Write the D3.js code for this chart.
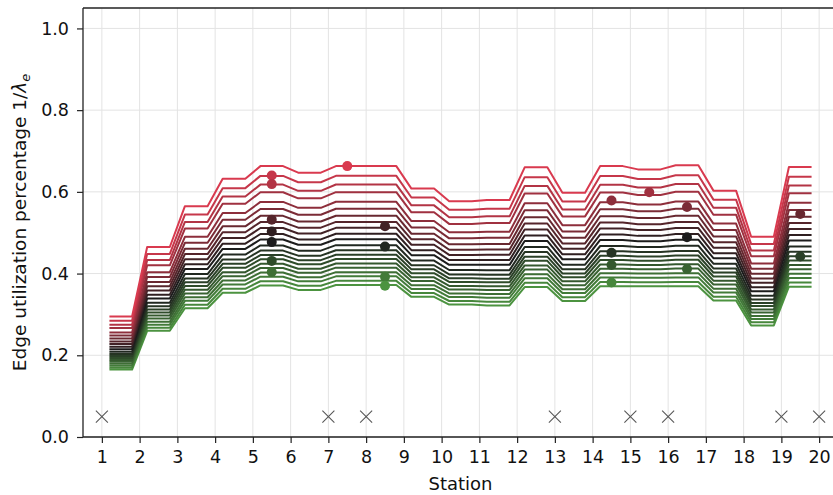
<!DOCTYPE html>
<html>
<head>
<meta charset="utf-8">
<script src="https://cdn.jsdelivr.net/npm/d3@7"></script>
<style>
  html, body { margin: 0; padding: 0; background: #fff; }
  svg { display: block; font-family: "DejaVu Sans", sans-serif; }
</style>
</head>
<body>
<svg id="chart" width="833" height="495"></svg>
<script>
// ---- data ----
const stations = [1,2,3,4,5,6,7,8,9,10,11,12,13,14,15,16,17,18,19,20];
// utilisation of edge e (between station e and e+1): highest (red) and lowest (green) curve
const edgeTop    = [0.295,0.465,0.565,0.632,0.663,0.647,0.663,0.663,0.608,0.577,0.580,0.660,0.598,0.663,0.655,0.665,0.603,0.490,0.661];
const edgeBottom = [0.165,0.260,0.315,0.353,0.371,0.360,0.372,0.372,0.343,0.324,0.322,0.367,0.333,0.369,0.369,0.369,0.334,0.273,0.368];
// relative position of every curve between the lowest and the highest one (read at edge 19-20)
const levels = [0,0.035,0.073,0.108,0.146,0.181,0.219,0.254,0.292,0.335,0.385,0.431,0.481,0.531,0.583,0.641,0.700,0.781,0.845,0.918,1.0];
// highlighted points
const dotX = [5.5,5.5,5.5,5.5,5.5,5.5,5.5,7.5,8.5,8.5,8.5,8.5,14.5,14.5,14.5,14.5,15.5,16.5,16.5,16.5,19.5,19.5];
const dotY = [0.640,0.619,0.532,0.503,0.477,0.431,0.404,0.663,0.516,0.466,0.392,0.370,0.579,0.451,0.421,0.378,0.599,0.563,0.489,0.411,0.546,0.442];
// stations marked with a cross
const crossStations = [1,7,8,13,15,16,19,20];
const crossValue = 0.05;
const yTicks = [0.0,0.2,0.4,0.6,0.8,1.0];

// ---- layout ----
const svg = d3.select("#chart");
const pL = 83, pT = 8, pR = 838, pB = 437;
const x = d3.scaleLinear().domain([0.5, 20.5]).range([pL, pR]);
const y = d3.scaleLinear().domain([0, 1.05]).range([pB, pT]);

const color = d3.scaleLinear().domain([0, 0.5, 1])
  .range(["#4c9340", "#1c1c1c", "#d93a4f"]).interpolate(d3.interpolateRgb);

svg.append("clipPath").attr("id", "clip")
  .append("rect").attr("x", pL).attr("y", pT).attr("width", pR - pL).attr("height", pB - pT);

// grid
const grid = svg.append("g");
grid.selectAll("line.vx").data(stations).enter().append("line")
  .attr("x1", d => x(d)).attr("x2", d => x(d)).attr("y1", pT).attr("y2", pB)
  .attr("stroke", "#e3e3e3").attr("stroke-width", 1);
grid.selectAll("line.hy").data(yTicks).enter().append("line")
  .attr("x1", pL).attr("x2", pR).attr("y1", d => y(d)).attr("y2", d => y(d))
  .attr("stroke", "#e3e3e3").attr("stroke-width", 1);

// curves
const lineGen = d3.line().x(d => x(d[0])).y(d => y(d[1]));
const curves = levels.map((f, i) => {
  const pts = [];
  edgeTop.forEach((t, e) => {
    const v = edgeBottom[e] + (t - edgeBottom[e]) * f;
    pts.push([e + 1.2, v], [e + 1.8, v]);
  });
  return {i, f, pts};
});
const plot = svg.append("g").attr("clip-path", "url(#clip)");
plot.selectAll("path.curve").data(curves).enter().append("path")
  .attr("d", d => lineGen(d.pts))
  .attr("fill", "none")
  .attr("stroke", d => color(d.i / (levels.length - 1)))
  .attr("stroke-width", 2)
  .attr("stroke-linejoin", "round");

// dots
const dots = dotX.map((dx, k) => {
  const e = Math.floor(dx) - 1;
  const f = (dotY[k] - edgeBottom[e]) / (edgeTop[e] - edgeBottom[e]);
  let best = 0;
  levels.forEach((l, i) => { if (Math.abs(l - f) < Math.abs(levels[best] - f)) best = i; });
  return {x: dx, y: dotY[k], c: color(best / (levels.length - 1))};
});
plot.selectAll("circle.dot").data(dots).enter().append("circle")
  .attr("cx", d => x(d.x)).attr("cy", d => y(d.y)).attr("r", 5)
  .attr("fill", d => d.c);

// crosses
const cs = 6;
const crosses = svg.append("g").attr("stroke", "#555").attr("stroke-width", 1.1);
crossStations.forEach(s => {
  crosses.append("line").attr("x1", x(s) - cs).attr("x2", x(s) + cs)
    .attr("y1", y(crossValue) - cs).attr("y2", y(crossValue) + cs);
  crosses.append("line").attr("x1", x(s) - cs).attr("x2", x(s) + cs)
    .attr("y1", y(crossValue) + cs).attr("y2", y(crossValue) - cs);
});

// axes
const xAxis = d3.axisBottom(x).tickValues(stations).tickSize(6).tickPadding(8).tickFormat(d3.format("d"));
const yAxis = d3.axisLeft(y).tickValues(yTicks).tickSize(6).tickPadding(8).tickFormat(d3.format(".1f"));
const gx = svg.append("g").attr("transform", `translate(0,${pB})`).call(xAxis);
const gy = svg.append("g").attr("transform", `translate(${pL},0)`).call(yAxis);
[gx, gy].forEach(g => {
  g.select(".domain").remove();
  g.selectAll(".tick line").attr("stroke", "#222").attr("stroke-width", 1.2);
  g.selectAll(".tick text").attr("fill", "#111").style("font-size", "17.5px").style("font-family", "DejaVu Sans");
});

// spines
svg.append("line").attr("x1", pL).attr("x2", pL).attr("y1", pT).attr("y2", pB).attr("stroke", "#222").attr("stroke-width", 1.3);
svg.append("line").attr("x1", pL).attr("x2", pR).attr("y1", pB).attr("y2", pB).attr("stroke", "#222").attr("stroke-width", 1.3);
svg.append("line").attr("x1", pL).attr("x2", pR).attr("y1", pT).attr("y2", pT).attr("stroke", "#222").attr("stroke-width", 1.3);

// labels
svg.append("text").attr("x", (pL + pR) / 2).attr("y", 490).attr("text-anchor", "middle")
  .style("font-size", "18px").attr("fill", "#111").text("Station");
const yl = svg.append("text").attr("transform", `translate(26,${(pT + pB) / 2}) rotate(-90)`)
  .attr("text-anchor", "middle").style("font-size", "18.5px").attr("fill", "#111");
yl.append("tspan").text("Edge utilization percentage 1/");
yl.append("tspan").style("font-style", "italic").text("λ");
yl.append("tspan").style("font-style", "italic").style("font-size", "13px").attr("dy", 4).text("e");
</script>
</body>
</html>
